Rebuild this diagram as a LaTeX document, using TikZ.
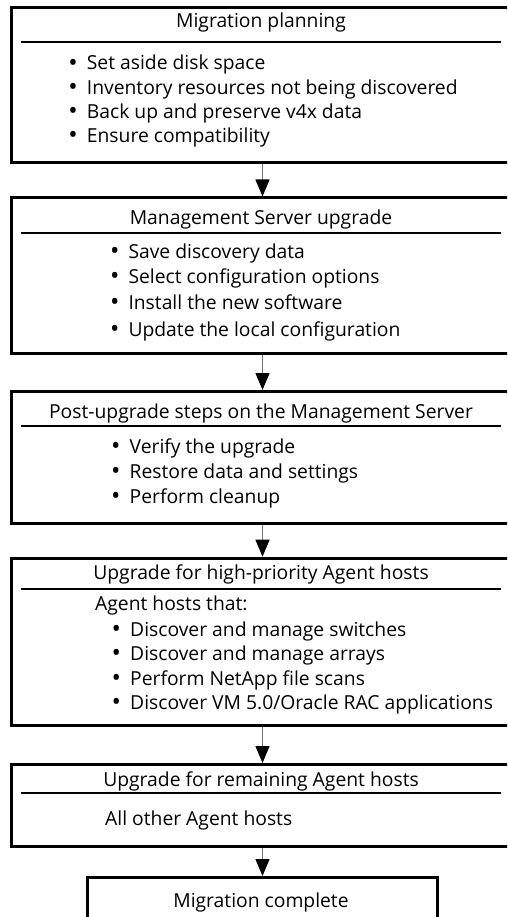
\documentclass[tikz,border=0pt]{standalone}
\usepackage{fontspec}
\setmainfont{Open Sans}
\usetikzlibrary{arrows.meta}
\newcommand\bulletmark{\makebox[18.5pt][l]{\raisebox{-1.2pt}{\fontsize{25}{25}\selectfont •}}}
\begin{document}
\begin{tikzpicture}[x=1pt,y=-1pt,
  box/.style={draw=black, line width=3pt, minimum width=503pt, inner sep=0pt, anchor=north west},
  hdr/.style={draw=black, line width=2pt},
  ttl/.style={font=\fontsize{19.3}{23}\selectfont, anchor=base, inner sep=0pt},
  txt/.style={font=\fontsize{19.3}{23}\selectfont, anchor=base west, inner sep=0pt},
  flow/.style={draw=black!55, line width=1.3pt, -{Triangle[length=17pt,width=14pt,color=black,fill=black]}}
]
\clip (0,0) rectangle (507,917);
% boxes
\node[box, minimum height=154.5pt] (b1) at (9.5,6.5) {};
\node[box, minimum height=155.5pt] (b2) at (9.5,196.5) {};
\node[box, minimum height=131.7pt] (b3) at (9.5,390) {};
\node[box, minimum height=167.3pt] (b4) at (9.5,556.7) {};
\node[box, minimum height=82pt]    (b5) at (9.5,763) {};
\node[box, minimum height=60pt, minimum width=350pt] (b6) at (86,876) {};
% header rules
\draw[hdr] (21,41.7) -- (501,41.7);
\draw[hdr] (21,232.7) -- (501,232.7);
\draw[hdr] (21,425.7) -- (501,425.7);
\draw[hdr] (21,589) -- (501,589);
\draw[hdr] (21,793.3) -- (501,793.3);
% titles
\node[ttl] (t1) at (261,27.3) {Migration planning};
\node[ttl] (t2) at (261,224.3) {Management Server upgrade};
\node[ttl] (t3) at (261,418.3) {Post-upgrade steps on the Management Server};
\node[ttl] (t4) at (261,579.5) {Upgrade for high-priority Agent hosts};
\node[ttl] (t5) at (261,786.7) {Upgrade for remaining Agent hosts};
\node[ttl] (t6) at (261,907.3) {Migration complete};
% box 1 body
\node[txt] (p1a) at (68.2,70)   {\bulletmark Set aside disk space};
\node[txt] (p1b) at (68.2,94.3) {\bulletmark Inventory resources not being discovered};
\node[txt] (p1c) at (68.2,118.5) {\bulletmark Back up and preserve v4x data};
\node[txt] (p1d) at (68.2,142.7) {\bulletmark Ensure compatibility};
% box 2 body
\node[txt] (p2a) at (109.8,258.3) {\bulletmark Save discovery data};
\node[txt] (p2b) at (109.8,283.6) {\bulletmark Select configuration options};
\node[txt] (p2c) at (109.8,309.5) {\bulletmark Install the new software};
\node[txt] (p2d) at (109.8,336.2) {\bulletmark Update the local configuration};
% box 3 body
\node[txt] (p3a) at (111,453.3) {\bulletmark Verify the upgrade};
\node[txt] (p3b) at (111,478.3) {\bulletmark Restore data and settings};
\node[txt] (p3c) at (111,503.3) {\bulletmark Perform cleanup};
% box 4 body
\node[txt] (p4h) at (95,610.7) {Agent hosts that:};
\node[txt] (p4a) at (111.5,636.7) {\bulletmark Discover and manage switches};
\node[txt] (p4b) at (111.5,660.7) {\bulletmark Discover and manage arrays};
\node[txt] (p4c) at (111.5,685) {\bulletmark Perform NetApp file scans};
\node[txt] (p4d) at (111.5,709) {\bulletmark Discover VM 5.0/Oracle RAC applications};
% box 5 body
\node[txt] (p5a) at (105,825) {All other Agent hosts};
% connectors
\draw[flow] (b1.south) -- (b2.north);
\draw[flow] (b2.south) -- (b3.north);
\draw[flow] (b3.south) -- (b4.north);
\draw[flow] (b4.south) -- (b5.north);
\draw[flow] (b5.south) -- (b6.north);
\end{tikzpicture}
\end{document}
